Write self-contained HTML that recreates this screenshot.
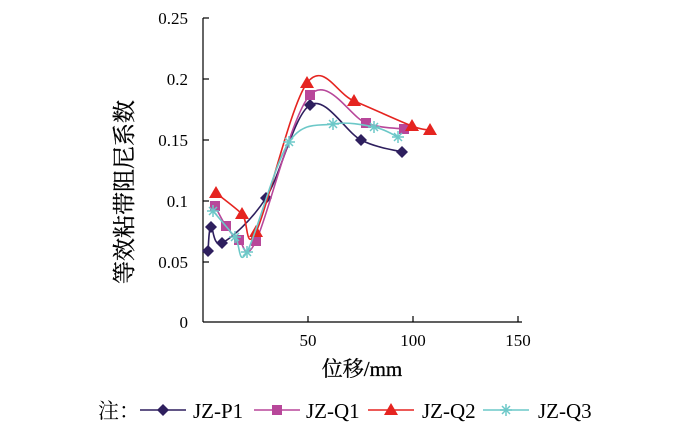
<!DOCTYPE html>
<html><head><meta charset="utf-8"><style>
body{margin:0;background:#fff}
svg text{font-family:"Liberation Serif","Noto Serif CJK SC",serif;fill:#000}
</style></head><body>
<svg id="s" width="700" height="430" xmlns="http://www.w3.org/2000/svg">
<g stroke="#000" stroke-width="1.2">
<line x1="203" y1="18" x2="203" y2="322"/>
<line x1="203" y1="322" x2="522" y2="322"/>
<line x1="203" y1="18" x2="209" y2="18"/>
<line x1="203" y1="79" x2="209" y2="79"/>
<line x1="203" y1="140" x2="209" y2="140"/>
<line x1="203" y1="201" x2="209" y2="201"/>
<line x1="203" y1="262" x2="209" y2="262"/>
<line x1="308" y1="322" x2="308" y2="316"/>
<line x1="413" y1="322" x2="413" y2="316"/>
<line x1="518" y1="322" x2="518" y2="316"/>
</g>
<g font-size="17" text-anchor="end">
<text x="188" y="24">0.25</text><text x="188" y="85">0.2</text>
<text x="188" y="146">0.15</text><text x="188" y="207">0.1</text>
<text x="188" y="268">0.05</text><text x="188" y="328">0</text>
</g>
<g font-size="17" text-anchor="middle">
<text x="308" y="346">50</text><text x="413" y="346">100</text><text x="518" y="346">150</text>
</g>
<text x="362" y="376" font-size="21" text-anchor="middle" stroke="#000" stroke-width="0.3">位移/mm</text>
<text transform="translate(132,192) rotate(-90)" font-size="23" text-anchor="middle" stroke="#000" stroke-width="0.3">等效粘带阻尼系数</text>
<g id="series"></g>
<g font-size="21">
<text x="98" y="418">注：</text>
<text x="193" y="418">JZ-P1</text>
<text x="306" y="418">JZ-Q1</text>
<text x="422" y="418">JZ-Q2</text>
<text x="538" y="418">JZ-Q3</text>
</g>
</svg>
<script>
var S=[
 {c:"#2e1f5e",m:"d",p:[[208,251],[211,227],[222,243],[266,198],[310,105],[361,140],[402,152]],lx:140},
 {c:"#b8479a",m:"s",p:[[215,206],[226,226],[239,240],[256,241],[310,95],[366,123],[404,129]],lx:254},
 {c:"#e52420",m:"t",p:[[216,193],[242,214],[256,232],[307,83],[354,101],[412,126],[430,130]],lx:368},
 {c:"#6cc8c8",m:"x",p:[[213,211],[235,237],[247,252],[289,142],[333,124],[374,127],[398,137]],lx:483}
];
var g=document.getElementById("series"),ns="http://www.w3.org/2000/svg";
function el(n,a){var e=document.createElementNS(ns,n);for(var k in a)e.setAttribute(k,a[k]);g.appendChild(e);return e;}
function mk(m,x,y,c){
 if(m=="d")el("polygon",{points:(x)+","+(y-6)+" "+(x+6)+","+y+" "+x+","+(y+6)+" "+(x-6)+","+y,fill:c});
 if(m=="s")el("rect",{x:x-5,y:y-5,width:10,height:10,fill:c});
 if(m=="t")el("polygon",{points:x+","+(y-7)+" "+(x+7)+","+(y+5)+" "+(x-7)+","+(y+5),fill:c});
 if(m=="x"){var o={stroke:c,"stroke-width":1.5};el("line",Object.assign({x1:x-6,y1:y,x2:x+6,y2:y},o));el("line",Object.assign({x1:x,y1:y-6,x2:x,y2:y+6},o));el("line",Object.assign({x1:x-4,y1:y-4,x2:x+4,y2:y+4},o));el("line",Object.assign({x1:x-4,y1:y+4,x2:x+4,y2:y-4},o));}
}
S.forEach(function(s){
 var p=s.p,d="M"+p[0][0]+","+p[0][1];
 for(var i=0;i<p.length-1;i++){
  var p0=p[Math.max(0,i-1)],p1=p[i],p2=p[i+1],p3=p[Math.min(p.length-1,i+2)];
  var k=1/6;
  d+=" C"+(p1[0]+(p2[0]-p0[0])*k)+","+(p1[1]+(p2[1]-p0[1])*k)+" "+(p2[0]-(p3[0]-p1[0])*k)+","+(p2[1]-(p3[1]-p1[1])*k)+" "+p2[0]+","+p2[1];
 }
 el("path",{d:d,fill:"none",stroke:s.c,"stroke-width":1.6});
 p.forEach(function(q){mk(s.m,q[0],q[1],s.c);});
 el("line",{x1:s.lx,y1:410,x2:s.lx+46,y2:410,stroke:s.c,"stroke-width":1.6});
 mk(s.m,s.lx+23,410,s.c);
});
</script>
</body></html>
